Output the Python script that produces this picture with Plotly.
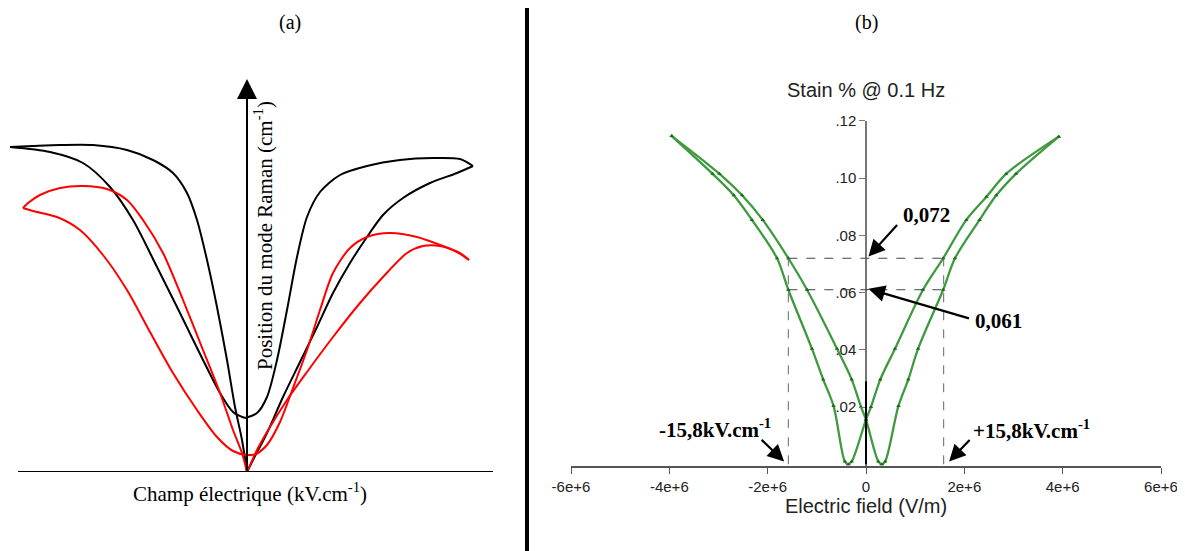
import plotly.graph_objects as go

# ---- panel (a): schematic, arbitrary units ----
noir_1_x = [-237, -197, -164, -137, -114, -90, -67, -44, -27, -14, -2]
noir_1_y = [325, 320, 309, 285, 252, 205, 159, 112, 79, 60, 54]
noir_2_x = [-2, 10, 20, 30, 40, 50, 60, 73, 93, 120, 153, 186, 213, 226]
noir_2_y = [54, 59, 75, 112, 162, 215, 255, 280, 297, 306, 312, 314, 313, 306]
noir_3_x = [226, 210, 183, 156, 136, 120, 103, 86, 70, 53, 36, 20, 6, 0]
noir_3_y = [306, 299, 289, 274, 257, 235, 209, 179, 145, 110, 75, 39, 12, 0]
noir_4_x = [0, -5, -12, -20, -30, -40, -50, -60, -74, -94, -120, -154, -187, -214, -237]
noir_4_y = [0, 32, 65, 112, 165, 212, 252, 279, 299, 312, 322, 327, 327, 326, 325]

rouge_1_x = [0, -5, -14, -27, -44, -64, -84, -104, -120, -140, -164, -187, -207, -219, -224]
rouge_1_y = [0, 19, 42, 79, 122, 172, 219, 252, 272, 283, 286, 284, 277, 269, 264]
rouge_2_x = [-224, -214, -190, -167, -144, -120, -97, -74, -50, -30, -14, 0, 10]
rouge_2_y = [264, 261, 255, 242, 217, 182, 140, 99, 62, 35, 21, 17, 18]
rouge_3_x = [10, 20, 33, 46, 60, 73, 86, 103, 120, 143, 170, 196, 213, 222]
rouge_3_y = [18, 27, 50, 84, 122, 162, 199, 224, 235, 239, 235, 226, 219, 212]
rouge_4_x = [222, 210, 193, 176, 160, 136, 113, 86, 60, 40, 23, 10, 1]
rouge_4_y = [212, 220, 226, 226, 219, 195, 169, 135, 100, 72, 45, 22, 2]

# ---- panel (b): strain vs electric field ----
champ_a = [-3.95e6, -3.12e6, -2.69e6, -2.32e6, -1.81e6, -1.58e6, -1.10e6, -0.87e6, -0.66e6,
           -0.43e6, -0.36e6, -0.29e6, 0.0, 0.10e6, 0.29e6, 0.59e6, 1.16e6, 1.57e6, 2.04e6,
           2.45e6, 2.85e6, 3.92e6]
strain_a = [0.1147, 0.1015, 0.094, 0.0854, 0.072, 0.061, 0.0404, 0.0296, 0.0204,
            0.001, 0.0, 0.001, 0.0156, 0.020, 0.0296, 0.0404, 0.061, 0.072, 0.0854,
            0.0935, 0.1015, 0.1145]
champ_b = [-3.95e6, -2.98e6, -2.52e6, -2.10e6, -1.58e6, -1.20e6, -0.59e6, -0.29e6, -0.10e6,
           0.0, 0.25e6, 0.32e6, 0.39e6, 0.66e6, 0.86e6, 1.06e6, 1.57e6, 1.81e6, 2.31e6,
           2.65e6, 3.05e6, 3.92e6]
strain_b = [0.1147, 0.1015, 0.094, 0.0854, 0.072, 0.061, 0.0404, 0.0296, 0.020,
            0.0156, 0.001, 0.0, 0.001, 0.0204, 0.0296, 0.0404, 0.061, 0.072, 0.0854,
            0.094, 0.1015, 0.1145]

x_ticks = [-6e6, -4e6, -2e6, 0, 2e6, 4e6, 6e6]
x_labels = ["-6e+6", "-4e+6", "-2e+6", "0", "2e+6", "4e+6", "6e+6"]
y_ticks = [0.02, 0.04, 0.06, 0.08, 0.10, 0.12]
y_labels = [".02", ".04", ".06", ".08", ".10", ".12"]

champ_coercitif = 1.58e6
niveaux = [0.072, 0.061]

SERIF = "Liberation Serif, Times New Roman, serif"
SANS = "Liberation Sans, Arial, sans-serif"
W, H = 1185, 551
DECALAGE = 8  # marge du body html


def fx(p):
    return (p - DECALAGE) / W


def fy(p):
    return 1 - (p - DECALAGE) / H


fig = go.Figure()

#courbes schematiques (a)
for xs, ys, col in [(noir_1_x, noir_1_y, "black"), (noir_2_x, noir_2_y, "black"),
                    (noir_3_x, noir_3_y, "black"), (noir_4_x, noir_4_y, "black"),
                    (rouge_1_x, rouge_1_y, "#ff0000"), (rouge_2_x, rouge_2_y, "#ff0000"),
                    (rouge_3_x, rouge_3_y, "#ff0000"), (rouge_4_x, rouge_4_y, "#ff0000")]:
    fig.add_trace(go.Scatter(x=xs, y=ys, xaxis="x2", yaxis="y2", mode="lines",
                             line=dict(color=col, width=2, shape="spline", smoothing=0.8),
                             showlegend=False, hoverinfo="skip"))

#lignes pointillees (b)
for v in niveaux:
    fig.add_shape(type="line", xref="x", yref="y", x0=-champ_coercitif, x1=champ_coercitif, y0=v, y1=v,
                  line=dict(color="#444", width=1, dash="dash"))
for e in [-champ_coercitif, champ_coercitif]:
    fig.add_shape(type="line", xref="x", yref="y", x0=e, x1=e, y0=0, y1=niveaux[0],
                  line=dict(color="#666", width=1, dash="dash"))
fig.add_shape(type="line", xref="x", yref="y", x0=0, x1=0, y0=0, y1=0.029,
              line=dict(color="black", width=2))

#boucles papillon (b)
for xs, ys in [(champ_a, strain_a), (champ_b, strain_b)]:
    fig.add_trace(go.Scatter(x=xs, y=ys, mode="lines+markers",
                             line=dict(color="#3f9a3f", width=2.3, shape="spline", smoothing=0.9),
                             marker=dict(symbol="triangle-up", size=4, color="#1d6b1d"),
                             showlegend=False, cliponaxis=False))

#axes du schema (a)
fig.add_shape(type="line", xref="x2", yref="y2", x0=-229, x1=246, y0=0, y1=0,
              line=dict(color="black", width=2))
annotations = [
    dict(x=0, y=393, xref="x2", yref="y2", ax=0, ay=0, axref="x2", ayref="y2", text="",
         showarrow=True, arrowhead=2, arrowsize=2, arrowwidth=2, arrowcolor="black"),
    dict(x=16, y=236, xref="x2", yref="y2", text="Position du mode Raman (cm<sup>-1</sup>)",
         textangle=-90, showarrow=False, font=dict(family=SERIF, size=21, color="black")),
    dict(x=fx(250), y=fy(492), xref="paper", yref="paper", text="Champ électrique (kV.cm<sup>-1</sup>)",
         showarrow=False, xanchor="center", yanchor="middle",
         font=dict(family=SERIF, size=21, color="black")),
    dict(x=fx(290), y=fy(22), xref="paper", yref="paper", text="(a)", showarrow=False,
         xanchor="center", yanchor="middle", font=dict(family=SERIF, size=20, color="black")),
    dict(x=fx(866), y=fy(22), xref="paper", yref="paper", text="(b)", showarrow=False,
         xanchor="center", yanchor="middle", font=dict(family=SERIF, size=20, color="black")),
    dict(x=fx(866), y=fy(90), xref="paper", yref="paper", text="Stain % @ 0.1 Hz",
         showarrow=False, xanchor="center", yanchor="middle",
         font=dict(family=SANS, size=20, color="#222")),
    # fleches et valeurs
    dict(x=0.05e6, y=0.0726, xref="x", yref="y", ax=30, ay=-33, text="", showarrow=True,
         arrowhead=2, arrowsize=1.5, arrowwidth=2.2, arrowcolor="black"),
    dict(x=0.05e6, y=0.0613, xref="x", yref="y", ax=102, ay=30, text="", showarrow=True,
         arrowhead=2, arrowsize=1.5, arrowwidth=2.2, arrowcolor="black"),
    dict(x=-1.665e6, y=0.001, xref="x", yref="y", ax=-24, ay=-23, text="", showarrow=True,
         arrowhead=2, arrowsize=1.5, arrowwidth=2.2, arrowcolor="black"),
    dict(x=1.69e6, y=0.001, xref="x", yref="y", ax=22, ay=-23, text="", showarrow=True,
         arrowhead=2, arrowsize=1.5, arrowwidth=2.2, arrowcolor="black"),
    dict(x=1.232e6, y=0.0872, xref="x", yref="y", text="<b>0,072</b>", showarrow=False,
         font=dict(family=SERIF, size=21, color="black")),
    dict(x=2.686e6, y=0.0502, xref="x", yref="y", text="<b>0,061</b>", showarrow=False,
         font=dict(family=SERIF, size=21, color="black")),
    dict(x=-3.066e6, y=0.0125, xref="x", yref="y", text="<b>-15,8kV.cm<sup>-1</sup></b>",
         showarrow=False, font=dict(family=SERIF, size=21, color="black")),
    dict(x=3.365e6, y=0.012, xref="x", yref="y", text="<b>+15,8kV.cm<sup>-1</sup></b>",
         showarrow=False, font=dict(family=SERIF, size=21, color="black")),
]

#separateur
fig.add_shape(type="line", xref="paper", yref="paper", x0=fx(527), x1=fx(527),
              y0=0, y1=fy(8), line=dict(color="black", width=4))

fig.update_layout(
    template="none",
    width=W, height=H,
    margin=dict(l=0, r=0, t=0, b=0, autoexpand=False),
    paper_bgcolor="white", plot_bgcolor="rgba(0,0,0,0)",
    showlegend=False,
    annotations=annotations,
    xaxis=dict(domain=[fx(571), fx(1161)], range=[-6e6, 6e6], tickvals=x_ticks, ticktext=x_labels,
               showline=True, linecolor="#555", linewidth=1.5, ticks="outside", ticklen=6, tickcolor="#555",
               showgrid=False, zeroline=False, tickfont=dict(family=SANS, size=15, color="#222"),
               title=dict(text="Electric field (V/m)", font=dict(family=SANS, size=20, color="#222"), standoff=3),
               anchor="y", automargin=False),
    yaxis=dict(domain=[fy(466), fy(120.9)], range=[-0.0006, 0.12],
               tickvals=y_ticks, ticktext=y_labels, showline=True, linecolor="#777", linewidth=1.5,
               ticks="outside", ticklen=6, tickcolor="#777", showgrid=False, zeroline=False,
               tickfont=dict(family=SANS, size=15, color="#222"),
               anchor="free", position=fx(866), automargin=False),
    xaxis2=dict(domain=[0, fx(520)], range=[-239, 273], visible=False, anchor="y2", automargin=False),
    yaxis2=dict(domain=[fy(472), fy(60)], range=[0, 412], visible=False, anchor="x2",
                automargin=False),
)

fig.write_html("out.html")
